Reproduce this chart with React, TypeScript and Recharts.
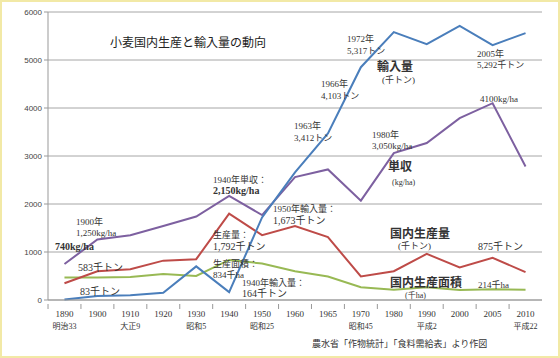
import { LineChart, Line, XAxis, YAxis, CartesianGrid } from 'recharts';

const years = ['1890', '1900', '1910', '1920', '1930', '1940', '1950', '1960', '1965', '1970', '1980', '1990', '2000', '2005', '2010'];
const eras = ['明治33', '', '大正9', '', '昭和5', '', '昭和25', '', '', '昭和45', '', '平成2', '', '', '平成22'];

// 輸入量 (千トン)
const imports = [10, 83, 100, 150, 700, 164, 1720, 2660, 3470, 4850, 5580, 5330, 5710, 5310, 5560];
// 単収 (kg/ha)
const yields = [750, 1260, 1350, 1540, 1740, 2170, 1770, 2560, 2720, 2070, 3060, 3270, 3790, 4100, 2780];
// 国内生産量 (千トン)
const production = [350, 600, 640, 820, 850, 1800, 1350, 1540, 1310, 490, 600, 960, 680, 880, 580];
// 国内生産面積 (千ha)
const area = [470, 470, 480, 540, 500, 834, 760, 600, 490, 265, 215, 265, 210, 225, 214];

const yTicks = [0, 1000, 2000, 3000, 4000, 5000, 6000];

const data = years.map((y, i) => ({
  year: y,
  era: eras[i],
  imports: imports[i],
  yields: yields[i],
  production: production[i],
  area: area[i],
}));

const SERIF = '"Liberation Serif", "DejaVu Serif", "Noto Sans CJK JP", serif';
const BAND = 32.9;

// 注記テキスト [text, x, y, size, bold]
const notes: [string, number, number, number, boolean?][] = [
  ['1972年', 347, 42, 9],
  ['5,317トン', 347, 54, 9],
  ['2005年', 477, 57, 9],
  ['5,292千トン', 477, 68, 9],
  ['1966年', 321, 87, 9],
  ['4,103トン', 321, 99, 9],
  ['4100kg/ha', 480, 102, 9],
  ['1963年', 294, 129, 9],
  ['3,412トン', 294, 141, 9],
  ['1980年', 372, 138, 9],
  ['3,050kg/ha', 372, 149, 9],
  ['輸入量', 377, 71, 12, true],
  ['(千トン)', 382, 83, 9],
  ['単収', 388, 171, 12, true],
  ['(kg/ha)', 392, 185, 8],
  ['1940年単収：', 213, 183, 9],
  ['2,150kg/ha', 213, 194, 10, true],
  ['1900年', 76, 225, 9],
  ['1,250kg/ha', 76, 236, 9],
  ['740kg/ha', 55, 250, 10, true],
  ['583千トン', 78, 271, 10],
  ['83千トン', 80, 295, 10],
  ['生産量：', 213, 238, 9],
  ['1,792千トン', 213, 250, 10],
  ['生産面積：', 213, 267, 9],
  ['834千ha', 213, 278, 9],
  ['1940年輸入量：', 242, 286, 9],
  ['164千トン', 242, 297, 10],
  ['1950年輸入量：', 273, 212, 9],
  ['1,673千トン', 273, 224, 10],
  ['国内生産量', 390, 238, 12, true],
  ['(千トン)', 398, 249, 9],
  ['875千トン', 478, 250, 10],
  ['国内生産面積', 390, 287, 12, true],
  ['(千ha)', 405, 298, 8],
  ['214千ha', 478, 288, 9],
];

function YearTick(props: any) {
  const { x, y, payload, index } = props;
  const era = eras[index];
  return (
    <g>
      <line x1={x - BAND / 2} y1={y - 4} x2={x - BAND / 2} y2={y + 1} stroke="#999" />
      <text x={x} y={y + 9} textAnchor="middle" fontSize={9} fill="#333" fontFamily={SERIF}>
        {payload.value}
      </text>
      {era && (
        <text x={x} y={y + 21} textAnchor="middle" fontSize={8} fill="#333" fontFamily={SERIF}>
          {era}
        </text>
      )}
    </g>
  );
}

export default function App() {
  return (
    <div
      style={{
        position: 'absolute',
        left: 0,
        top: 0,
        width: 560,
        height: 358,
        boxSizing: 'border-box',
        border: '2px solid #f2e9a6',
        background: '#fff',
      }}
    >
      <div style={{ position: 'absolute', left: -2, top: -2 }}>
        <LineChart width={560} height={358} data={data} margin={{ top: 12, right: 18, bottom: 28, left: 8 }}>
          <CartesianGrid vertical={false} stroke="#a6a6a6" />
          <XAxis
            dataKey="year"
            scale="band"
            height={30}
            interval={0}
            stroke="#999"
            tickLine={false}
            tick={<YearTick />}
          />
          <YAxis
            width={40}
            domain={[0, 6000]}
            ticks={yTicks}
            stroke="#999"
            tickSize={4}
            tick={{ fontSize: 8, fill: '#444', fontFamily: 'Arial, "Liberation Sans", sans-serif' }}
          />
          <Line dataKey="area" stroke="#98b954" strokeWidth={2} dot={false} isAnimationActive={false} />
          <Line dataKey="production" stroke="#be4b48" strokeWidth={2} dot={false} isAnimationActive={false} />
          <Line dataKey="yields" stroke="#7d60a0" strokeWidth={2} dot={false} isAnimationActive={false} />
          <Line dataKey="imports" stroke="#4a7ebb" strokeWidth={2} dot={false} isAnimationActive={false} />
        </LineChart>
        <svg
          width={560}
          height={358}
          style={{ position: 'absolute', left: 0, top: 0, pointerEvents: 'none' }}
        >
          <text x={110} y={47} fontSize={12} fill="#222" fontFamily={SERIF}>
            小麦国内生産と輸入量の動向
          </text>
          {notes.map(([t, x, y, s, b], i) => (
            <text
              key={i}
              x={x}
              y={y}
              fontSize={s}
              fontWeight={b ? 600 : 400}
              fill="#333"
              fontFamily={SERIF}
            >
              {t}
            </text>
          ))}
          <text x={312} y={347} fontSize={9} fill="#333" fontFamily={SERIF}>
            農水省「作物統計」「食料需給表」より作図
          </text>
        </svg>
      </div>
    </div>
  );
}
